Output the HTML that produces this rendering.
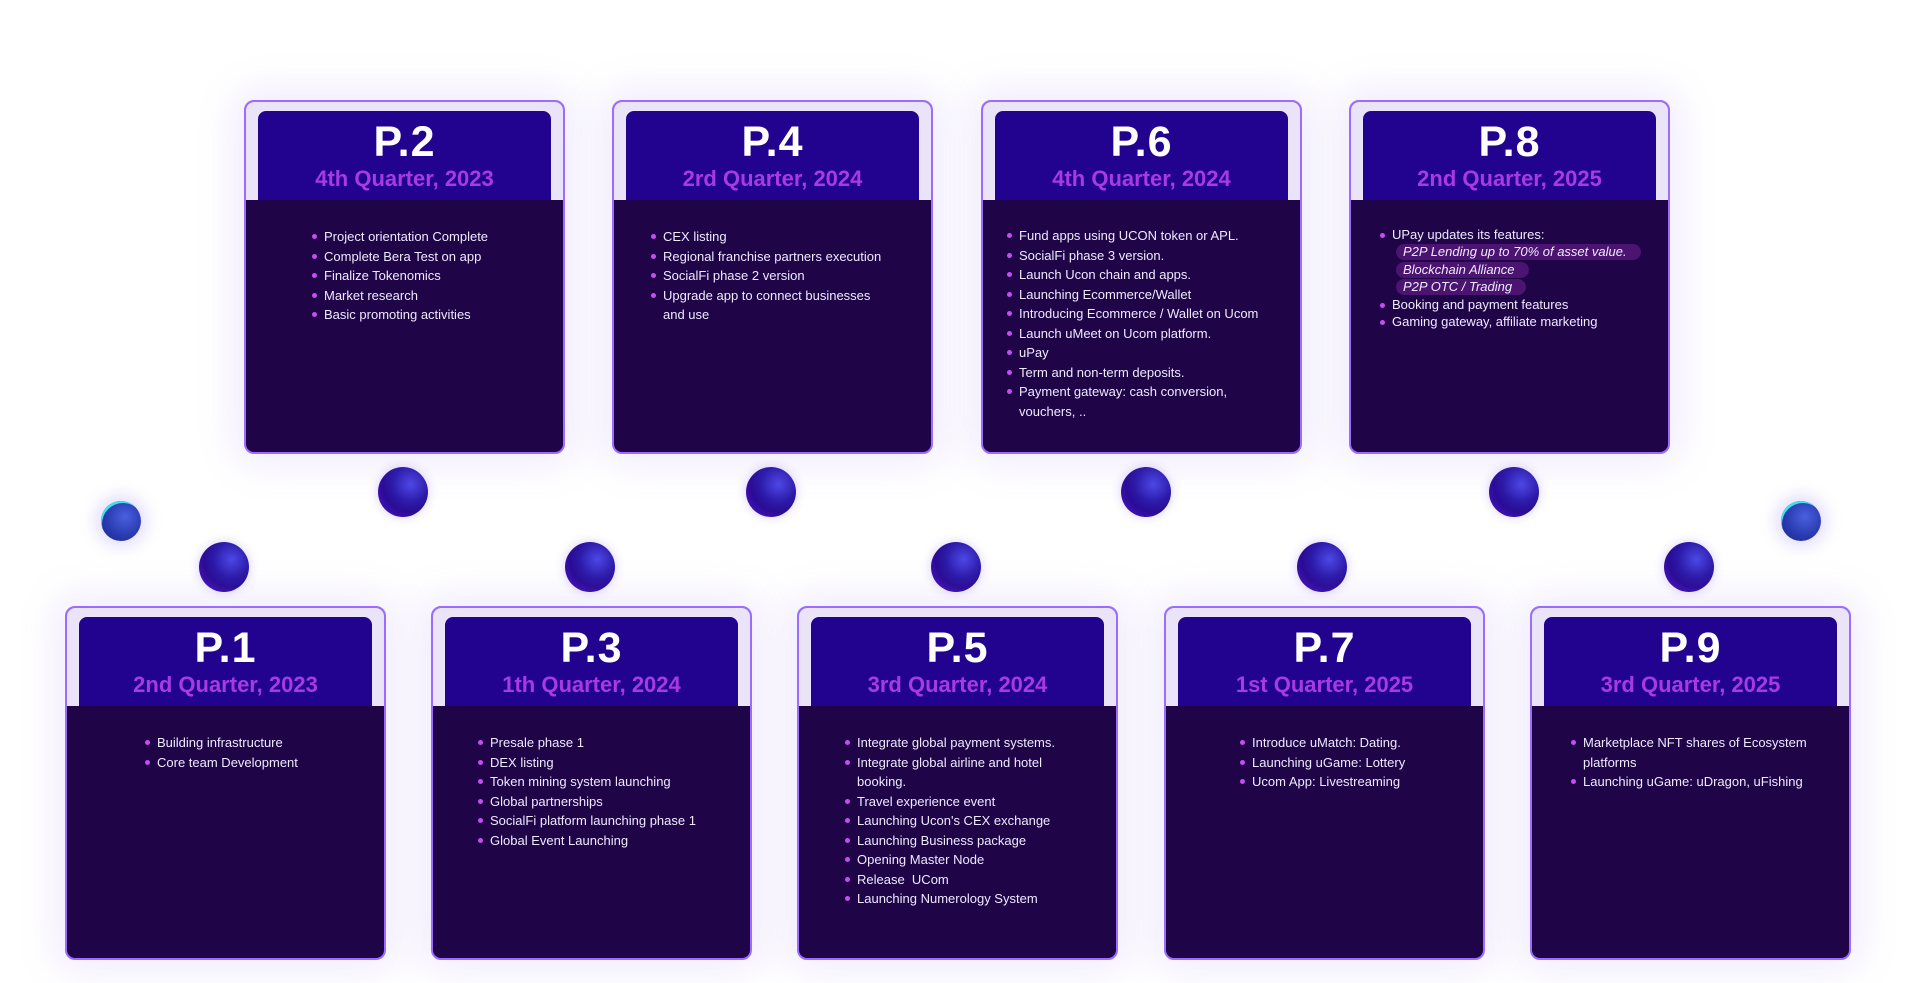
<!DOCTYPE html>
<html><head><meta charset="utf-8"><style>
body{margin:0;width:1920px;height:983px;background:#fff;position:relative;overflow:hidden;font-family:"Liberation Sans",sans-serif}
.card{position:absolute;width:317px;height:350px;border:2px solid #9a6cff;border-radius:10px;background:#1f0548;box-shadow:0 0 40px 10px rgba(140,100,230,.13);overflow:hidden}
.card .top{position:absolute;left:0;right:0;top:0;height:98px;background:#ebe4f9}
.card .hd{position:absolute;left:12px;right:12px;top:9px;height:89px;background:#22038f;border-radius:8px 8px 0 0;text-align:center}
.hd .p{color:#fff;font-weight:bold;font-size:43px;line-height:43px;margin-top:10px;letter-spacing:1px}
.hd .q{color:#a83ae4;font-weight:bold;font-size:22px;line-height:26px;margin-top:2px}
.card ul{position:absolute;margin:0;padding:0;list-style:none;top:125px;color:#efe9ff;font-size:13px;line-height:19.5px}
.card li{position:relative;padding-left:12px}
.card li:before{content:"";position:absolute;left:0;top:7px;width:5px;height:5px;border-radius:50%;background:#c44ef0}
.tag{display:inline-block;background:#4a1470;border-radius:8px;font-style:italic;padding:0 14px 0 7px;line-height:16px;margin:0.5px 0}
.s{position:absolute;width:50px;height:50px;border-radius:50%;background:radial-gradient(circle at 65% 35%,#4d48e6 0,#2c1aa8 40%,#2a0c95 60%,#5b16d6 100%);box-shadow:0 0 10px rgba(100,60,220,.25)}
.c{position:absolute;width:40px;height:40px;border-radius:50%;background:radial-gradient(circle at 60% 40%,#4a60e0 0,#2a3ab0 55%,#1a2a90 100%);box-shadow:0 0 16px 6px rgba(120,90,230,.2),inset 2px 3px 0 -1px #3ee0f0}
</style></head><body>

<div class="c" style="left:101px;top:501px"></div>
<div class="c" style="left:1781px;top:501px"></div>

<div class="s" style="left:378px;top:467px"></div>
<div class="s" style="left:746px;top:467px"></div>
<div class="s" style="left:1121px;top:467px"></div>
<div class="s" style="left:1489px;top:467px"></div>

<div class="s" style="left:199px;top:542px"></div>
<div class="s" style="left:565px;top:542px"></div>
<div class="s" style="left:931px;top:542px"></div>
<div class="s" style="left:1297px;top:542px"></div>
<div class="s" style="left:1664px;top:542px"></div>

<div class="card" style="left:244px;top:100px"><div class="top"></div><div class="hd"><div class="p">P.2</div><div class="q">4th Quarter, 2023</div></div>
<ul style="left:66px"><li>Project orientation Complete</li><li>Complete Bera Test on app</li><li>Finalize Tokenomics</li><li>Market research</li><li>Basic promoting activities</li></ul></div>

<div class="card" style="left:612px;top:100px"><div class="top"></div><div class="hd"><div class="p">P.4</div><div class="q">2rd Quarter, 2024</div></div>
<ul style="left:37px;width:240px"><li>CEX listing</li><li>Regional franchise partners execution</li><li>SocialFi phase 2 version</li><li>Upgrade app to connect businesses and use</li></ul></div>

<div class="card" style="left:981px;top:100px"><div class="top"></div><div class="hd"><div class="p">P.6</div><div class="q">4th Quarter, 2024</div></div>
<ul style="left:24px;top:124px;width:265px"><li>Fund apps using UCON token or APL.</li><li>SocialFi phase 3 version.</li><li>Launch Ucon chain and apps.</li><li>Launching Ecommerce/Wallet</li><li>Introducing Ecommerce / Wallet on Ucom</li><li>Launch uMeet on Ucom platform.</li><li>uPay</li><li>Term and non-term deposits.</li><li>Payment gateway: cash conversion,<br>vouchers, ..</li></ul></div>

<div class="card" style="left:1349px;top:100px"><div class="top"></div><div class="hd"><div class="p">P.8</div><div class="q">2nd Quarter, 2025</div></div>
<ul style="left:29px;top:124px;width:285px;line-height:17px"><li>UPay updates its features:</li>
<div style="padding-left:16px"><span class="tag">P2P Lending up to 70% of asset value.</span><br><span class="tag">Blockchain Alliance</span><br><span class="tag">P2P OTC / Trading</span></div>
<li>Booking and payment features</li><li>Gaming gateway, affiliate marketing</li></ul></div>

<div class="card" style="left:65px;top:606px"><div class="top"></div><div class="hd"><div class="p">P.1</div><div class="q">2nd Quarter, 2023</div></div>
<ul style="left:78px"><li>Building infrastructure</li><li>Core team Development</li></ul></div>

<div class="card" style="left:431px;top:606px"><div class="top"></div><div class="hd"><div class="p">P.3</div><div class="q">1th Quarter, 2024</div></div>
<ul style="left:45px"><li>Presale phase 1</li><li>DEX listing</li><li>Token mining system launching</li><li>Global partnerships</li><li>SocialFi platform launching phase 1</li><li>Global Event Launching</li></ul></div>

<div class="card" style="left:797px;top:606px"><div class="top"></div><div class="hd"><div class="p">P.5</div><div class="q">3rd Quarter, 2024</div></div>
<ul style="left:46px;width:240px"><li>Integrate global payment systems.</li><li>Integrate global airline and hotel booking.</li><li>Travel experience event</li><li>Launching Ucon's CEX exchange</li><li>Launching Business package</li><li>Opening Master Node</li><li>Release &nbsp;UCom</li><li>Launching Numerology System</li></ul></div>

<div class="card" style="left:1164px;top:606px"><div class="top"></div><div class="hd"><div class="p">P.7</div><div class="q">1st Quarter, 2025</div></div>
<ul style="left:74px"><li>Introduce uMatch: Dating.</li><li>Launching uGame: Lottery</li><li>Ucom App: Livestreaming</li></ul></div>

<div class="card" style="left:1530px;top:606px"><div class="top"></div><div class="hd"><div class="p">P.9</div><div class="q">3rd Quarter, 2025</div></div>
<ul style="left:39px;width:250px"><li>Marketplace NFT shares of Ecosystem platforms</li><li>Launching uGame: uDragon, uFishing</li></ul></div>

</body></html>
